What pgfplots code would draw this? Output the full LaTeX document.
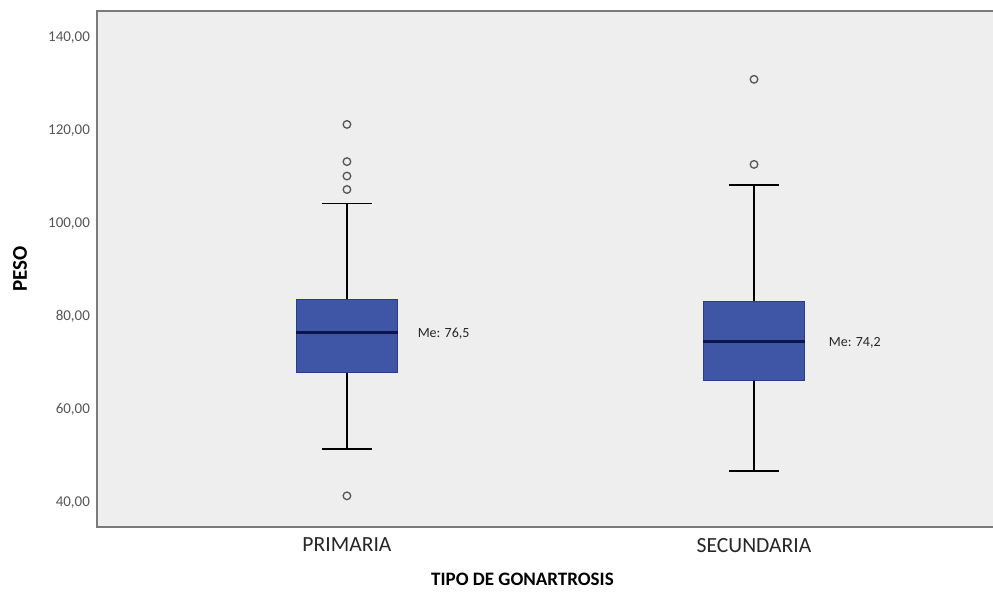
\documentclass[border=0pt]{standalone}
\usepackage{pgfplots}
\pgfplotsset{compat=1.18}
\usepackage{fontspec}
\setmainfont{Carlito}
\definecolor{bggray}{HTML}{EEEEEE}
\definecolor{framegray}{HTML}{7A7A7A}
\definecolor{boxblue}{HTML}{3F56A6}
\definecolor{boxedge}{HTML}{2A3C82}
\definecolor{medblue}{HTML}{0B1650}
\definecolor{tickgray}{HTML}{555555}
\definecolor{markgray}{HTML}{555555}
\begin{document}
\begin{tikzpicture}
\begin{axis}[
  scale only axis,
  width=460pt, height=258pt,
  xmin=0.386, xmax=2.646,
  ymin=34.7, ymax=145.7,
  axis background/.style={fill=bggray},
  axis line style={draw=framegray, line width=0.75pt},
  major tick length=0pt,
  xtick={1,2},
  xticklabels={PRIMARIA,SECUNDARIA},
  xticklabel style={font=\fontsize{10.8}{10.8}\selectfont, text=black!85, yshift=-2pt},
  ytick={40,60,80,100,120,140},
  yticklabel style={font=\fontsize{7.5}{7.5}\selectfont, text=tickgray},
  yticklabels={40{,}00,60{,}00,80{,}00,100{,}00,120{,}00,140{,}00},
  xlabel={\textbf{TIPO DE GONARTROSIS}},
  ylabel={\textbf{PESO}},
  xlabel style={at={(axis description cs:0.4625,-0.1008)}, anchor=center, font=\fontsize{9.5}{9.5}\selectfont},
  ylabel style={at={(axis description cs:-0.0837,0.5)}, anchor=center, font=\fontsize{10.5}{10.5}\selectfont},
  clip=false,
]
% PRIMARIA: whiskers 51.5 / 104.3, quartiles 68.0 / 83.7, median 76.6
\addplot[black, line width=0.85pt] coordinates {(1,51.5) (1,68.0)};
\addplot[black, line width=0.85pt] coordinates {(1,83.7) (1,104.3)};
\addplot[black, line width=0.85pt] coordinates {(0.9375,51.5) (1.0625,51.5)};
\addplot[black, line width=0.85pt] coordinates {(0.9375,104.3) (1.0625,104.3)};
\addplot[draw=boxedge, fill=boxblue, line width=0.5pt] coordinates {(0.875,68.0) (1.125,68.0) (1.125,83.7) (0.875,83.7) (0.875,68.0)};
\addplot[medblue, line width=1.5pt] coordinates {(0.875,76.6) (1.125,76.6)};
\addplot[only marks, mark=o, mark size=1.9pt, mark options={draw=markgray, line width=0.65pt}] coordinates {(1,121.3) (1,113.3) (1,110.2) (1,107.3) (1,41.4)};
% SECUNDARIA: whiskers 46.8 / 108.2, quartiles 66.15 / 83.3, median 74.5
\addplot[black, line width=0.85pt] coordinates {(2,46.8) (2,66.15)};
\addplot[black, line width=0.85pt] coordinates {(2,83.3) (2,108.2)};
\addplot[black, line width=0.85pt] coordinates {(1.9375,46.8) (2.0625,46.8)};
\addplot[black, line width=0.85pt] coordinates {(1.9375,108.2) (2.0625,108.2)};
\addplot[draw=boxedge, fill=boxblue, line width=0.5pt] coordinates {(1.875,66.15) (2.125,66.15) (2.125,83.3) (1.875,83.3) (1.875,66.15)};
\addplot[medblue, line width=1.5pt] coordinates {(1.875,74.5) (2.125,74.5)};
\addplot[only marks, mark=o, mark size=1.9pt, mark options={draw=markgray, line width=0.65pt}] coordinates {(2,131.0) (2,112.7)};
\node[anchor=west, font=\fontsize{7}{7}\selectfont, text=black!85, inner sep=0pt] at (axis cs:1.173,76.3) {Me: 76,5};
\node[anchor=west, font=\fontsize{7}{7}\selectfont, text=black!85, inner sep=0pt] at (axis cs:2.183,74.3) {Me: 74,2};
\end{axis}
\pgfresetboundingbox
\path[use as bounding box] (-48.5pt,-33pt) rectangle (448pt,263.5pt);
\end{tikzpicture}
\end{document}
